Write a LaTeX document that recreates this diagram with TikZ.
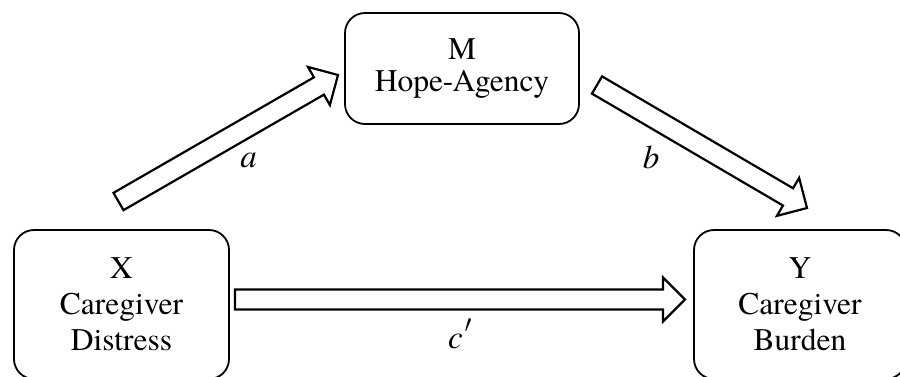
\documentclass[tikz,border=0pt]{standalone}
\usepackage{fontspec}
\setmainfont{TeX Gyre Termes}
\usetikzlibrary{calc}

% hollow block arrow from #1 to #2 (shaft half-width 10, head half-width 22, head length 22)
\newcommand\blockarrow[2]{%
  \path ($(#2)!22pt!(#1)$) coordinate (hb);
  \draw[blockarrow]
    ($(#1)!10pt!90:(#2)$) -- ($(hb)!10pt!90:(#2)$) -- ($(hb)!22pt!90:(#2)$)
    -- (#2)
    -- ($(hb)!22pt!-90:(#2)$) -- ($(hb)!10pt!-90:(#2)$) -- ($(#1)!10pt!-90:(#2)$)
    -- cycle;
}

\begin{document}
\begin{tikzpicture}[x=1pt, y=-1pt,
  box/.style={draw, line width=1.8pt, rounded corners=20pt, align=center,
    inner sep=0pt, font=\fontsize{31.5}{36}\selectfont},
  blockarrow/.style={draw, line width=2.2pt, line join=miter, fill=white},
  pathlabel/.style={font=\fontsize{33}{36}\selectfont\itshape, anchor=base, inner sep=0pt}]
  \clip (0,0) rectangle (900,376);
  \fill[white] (0,0) rectangle (900,376);

  % variables
  \node[box, minimum width=234pt, minimum height=111pt,
        font=\fontsize{31.5}{32}\selectfont] (M) at (462,68.5) {M\\Hope-Agency};
  \node[box, minimum width=215pt, minimum height=149pt] (X) at (121.5,304.5) {X\\Caregiver\\Distress};
  \node[box, minimum width=212pt, minimum height=149pt] (Y) at (800,304.5) {Y\\Caregiver\\Burden};

  % arrow end points
  \coordinate (aS) at (118.5,201.5);
  \coordinate (aE) at (338,75);
  \coordinate (bS) at (597,85);
  \coordinate (bE) at (807,208);
  \coordinate (cS) at (235,299.5);
  \coordinate (cE) at (685,299.5);

  \blockarrow{aS}{aE}
  \blockarrow{bS}{bE}
  \blockarrow{cS}{cE}

  % path labels
  \node[pathlabel] (la) at (248.5,167) {a};
  \node[pathlabel] (lb) at (651,168) {b};
  \node[pathlabel] (lc) at (460,348) {c\kern2pt\raisebox{6pt}{$^{\prime}$}};
\end{tikzpicture}
\end{document}
